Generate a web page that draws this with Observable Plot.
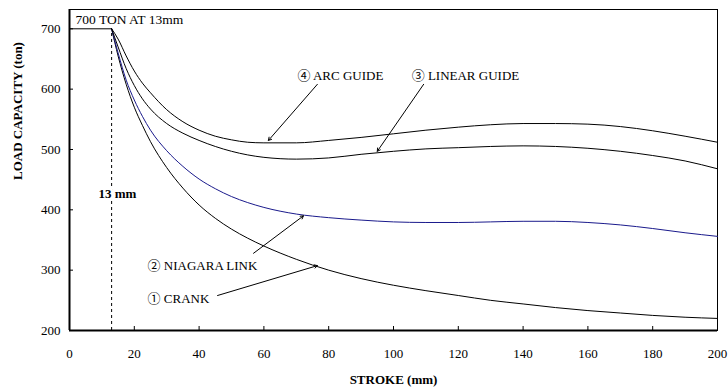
<!DOCTYPE html>
<html>
<head>
<meta charset="utf-8">
<script src="https://cdn.jsdelivr.net/npm/d3@7"></script>
<script src="https://cdn.jsdelivr.net/npm/@observablehq/plot@0.6"></script>
<style>
  html, body { margin: 0; padding: 0; background: #fff; }
  #chart svg { display: block; }
  #chart svg, #chart svg text { font-family: 'Liberation Serif', 'Times New Roman', 'Noto Sans CJK JP', serif !important; }
</style>
</head>
<body>
<div id="chart"></div>
<script>
// ---- data ----
const flatStroke = [0, 13];
const flatLoad = [700, 700];

const stroke = [13, 15, 17.5, 20, 22.5, 25, 30, 35, 40, 45, 50, 55, 60, 70, 80, 90, 100, 110, 120, 130, 140, 150, 160, 170, 180, 190, 200];
const crank   = [700, 655, 608, 570, 540, 513, 470, 436, 408, 386, 368, 353, 340, 318, 300, 286, 275, 266, 258, 250, 244, 238, 233, 229, 225, 222, 220];
const niagara = [700, 660, 615, 582, 555, 532, 498, 472, 451, 435, 422, 412, 404, 393, 387, 383, 380, 379, 379, 380, 381, 381, 379, 375, 369, 362, 356];
const linear  = [700, 670, 634, 606, 584, 567, 543, 527, 515, 505, 497, 491, 487, 484, 486, 492, 497, 501, 503, 505, 506, 505, 502, 497, 490, 481, 468];
const arc     = [700, 683, 655, 630, 610, 594, 566, 546, 532, 522, 516, 512, 511, 511, 515, 520, 526, 532, 537, 541, 543, 543, 542, 538, 531, 522, 512];

const seriesNames = ["crank", "niagara", "linear", "arc"];
const seriesValues = [crank, niagara, linear, arc];
const seriesColors = ["#000000", "#1a1a8c", "#000000", "#000000"];

const xTicks = [0, 20, 40, 60, 80, 100, 120, 140, 160, 180, 200];
const yTicks = [200, 300, 400, 500, 600, 700];

// annotations (data coordinates)
const labelText  = ["\u2463 ARC GUIDE", "\u2462 LINEAR GUIDE", "\u2461 NIAGARA LINK", "\u2460 CRANK"];
const labelX     = [83.6, 122.2, 24.1, 24.1];
const labelY     = [622, 622, 308, 253];
const labelAnch  = ["middle", "middle", "start", "start"];
const arrowX1    = [76.5, 109.3, 56.8, 45.7];
const arrowY1    = [608, 608, 328, 258];
const arrowX2    = [61.4, 95, 72.2, 76.5];
const arrowY2    = [515, 497, 390, 307.5];

const markerStroke = [13];
const markerText = ["13 mm"];
const markerLabelX = [14.8];
const markerLabelY = [427];
const titleText = ["700 TON AT 13mm"];
const titleX = [1.85];
const titleY = [715];

// ---- build tables ----
const rows = [];
seriesNames.forEach((name, i) => {
  stroke.forEach((s, j) => rows.push({series: name, stroke: s, load: seriesValues[i][j]}));
});
const flatRows = flatStroke.map((s, j) => ({stroke: s, load: flatLoad[j]}));
const labels = labelText.map((t, i) => ({t, x: labelX[i], y: labelY[i], a: labelAnch[i]}));
const arrows = arrowX1.map((x1, i) => ({x1, y1: arrowY1[i], x2: arrowX2[i], y2: arrowY2[i]}));

const font = "'Liberation Serif', 'Times New Roman', 'Noto Sans CJK JP', serif";

const chart = Plot.plot({
  width: 728,
  height: 392,
  marginLeft: 69,
  marginRight: 11,
  marginTop: 9,
  marginBottom: 62,
  style: {fontFamily: font, fontSize: "13px", color: "#000", background: "#fff"},
  x: {domain: [0, 200]},
  y: {domain: [200, 732]},
  color: {domain: seriesNames, range: seriesColors},
  marks: [
    Plot.frame({stroke: "#000", strokeWidth: 1}),
    Plot.ruleX(markerStroke, {x: d => d, y1: 200, y2: 700, stroke: "#000", strokeDasharray: "3,3", strokeWidth: 1}),
    Plot.line(flatRows, {x: "stroke", y: "load", stroke: "#000", strokeWidth: 1}),
    Plot.line(rows, {x: "stroke", y: "load", z: "series", stroke: "series", strokeWidth: 1, curve: "monotone-x"}),
    Plot.arrow(arrows, {x1: "x1", y1: "y1", x2: "x2", y2: "y2", stroke: "#000", strokeWidth: 1, headLength: 5, bend: 0}),
    Plot.text(labels.filter(d => d.a === "middle"), {x: "x", y: "y", text: "t", textAnchor: "middle", fontSize: 13, fill: "#000", fontFamily: font}),
    Plot.text(labels.filter(d => d.a === "start"), {x: "x", y: "y", text: "t", textAnchor: "start", fontSize: 13, fill: "#000", fontFamily: font}),
    Plot.text(markerText, {x: () => markerLabelX[0], y: () => markerLabelY[0], text: d => d, fontWeight: "bold", fontSize: 13, fill: "#000", stroke: "#fff", strokeWidth: 5, paintOrder: "stroke", fontFamily: font}),
    Plot.text(titleText, {x: () => titleX[0], y: () => titleY[0], text: d => d, textAnchor: "start", fontSize: 13.5, fill: "#000", fontFamily: font}),
    Plot.axisX({ticks: xTicks, tickSize: -4, tickPadding: 22, label: null, fontSize: 13, fontFamily: font}),
    Plot.axisY({ticks: yTicks, tickSize: -4, tickPadding: 13, label: null, fontSize: 13, fontFamily: font}),
    Plot.ruleY([200], {stroke: "#000", strokeWidth: 2}),
    Plot.ruleX([0], {stroke: "#000", strokeWidth: 2}),
    Plot.text(["STROKE (mm)"], {frameAnchor: "bottom", dy: 53, fontWeight: "bold", fontSize: 13, fill: "#000", fontFamily: font}),
    Plot.text(["LOAD CAPACITY (ton)"], {frameAnchor: "left", rotate: -90, dx: -52, dy: 10, fontWeight: "bold", fontSize: 13, fill: "#000", fontFamily: font})
  ]
});
document.getElementById("chart").appendChild(chart);
</script>
</body>
</html>
